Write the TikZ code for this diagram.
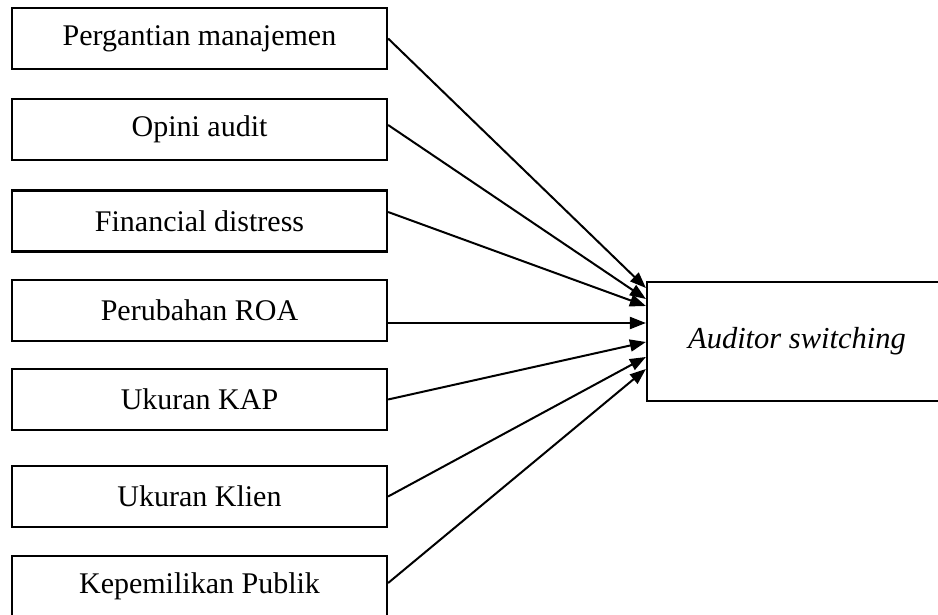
\documentclass[tikz,border=0pt]{standalone}
\usepackage{fontspec}
\setmainfont{Liberation Serif}
\usetikzlibrary{arrows.meta}
\begin{document}
\begin{tikzpicture}[x=1pt,y=-1pt,
  lbox/.style={draw=black, line width=2.2pt, minimum width=375pt, minimum height=61pt, inner sep=0pt, font=\fontsize{30}{36}\selectfont},
  rbox/.style={draw=black, line width=2.2pt, minimum width=300pt, minimum height=119pt, inner sep=0pt, font=\fontsize{30.5}{36}\selectfont\itshape},
  conn/.style={line width=2pt, -{Triangle[length=16pt,width=12pt]}}]
\useasboundingbox (0,0) rectangle (938,615);
\clip (0,0) rectangle (938,615);
\fill[white] (0,0) rectangle (938,615);
\node[lbox] (b1) at (199.5,38.5) {Pergantian manajemen};
\node[lbox] (b2) at (199.5,129.5) {Opini audit};
\node[lbox] (b3) at (199.5,221) {Financial distress};
\node[lbox] (b4) at (199.5,310.5) {Perubahan ROA};
\node[lbox] (b5) at (199.5,399.5) {Ukuran KAP};
\node[lbox] (b6) at (199.5,496.5) {Ukuran Klien};
\node[lbox] (b7) at (199.5,586.5) {Kepemilikan Publik};
\node[rbox] (sw) at (797,341.5) {Auditor switching};
\draw[conn] (b1.east) -- ([yshift=53.5pt]sw.west);
\draw[conn] ([yshift=4.5pt]b2.east) -- ([yshift=42.5pt]sw.west);
\draw[conn] ([yshift=9pt]b3.east) -- ([yshift=35.5pt]sw.west);
\draw[conn] ([yshift=-12.5pt]b4.east) -- ([yshift=18.5pt]sw.west);
\draw[conn] (b5.east) -- ([yshift=-0.5pt]sw.west);
\draw[conn] (b6.east) -- ([yshift=-15.5pt]sw.west);
\draw[conn] ([yshift=3.5pt]b7.east) -- ([yshift=-27.5pt]sw.west);
\end{tikzpicture}
\end{document}
